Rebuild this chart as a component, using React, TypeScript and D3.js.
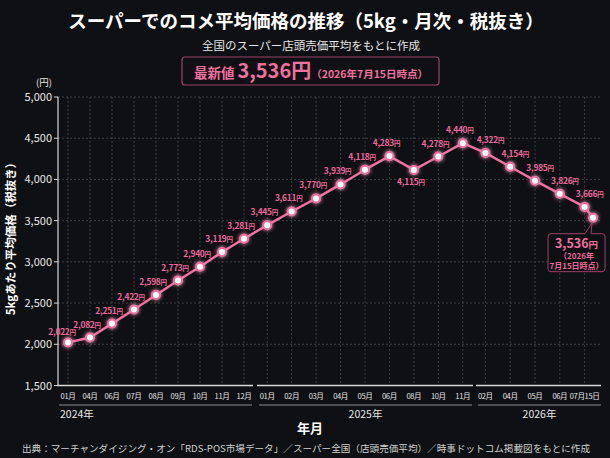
import React, { useEffect } from 'react';
import * as d3 from 'd3';

// data
const years = ['2024年', '2025年', '2026年'];
const months2024 = ['01月', '04月', '06月', '07月', '08月', '09月', '10月', '11月', '12月'];
const months2025 = ['01月', '02月', '03月', '04月', '05月', '06月', '08月', '10月', '11月'];
const months2026 = ['02月', '04月', '05月', '06月', '07月15日'];
const prices2024 = [2022, 2082, 2251, 2422, 2598, 2773, 2940, 3119, 3281];
const prices2025 = [3445, 3611, 3770, 3939, 4118, 4283, 4115, 4278, 4440];
const prices2026 = [4322, 4154, 3985, 3826, 3666];
const latestPrice = 3536;
const latestDate = '2026年7月15日時点';
const yTicks = [1500, 2000, 2500, 3000, 3500, 4000, 4500, 5000];

const W = 610;
const H = 458;
const BG = '#0f1013';
const PINK = '#f0709f';
const LABEL = '#e86a9a';
const FONT = '"Noto Sans CJK JP", "Noto Sans", sans-serif';

// layout of the three year groups along the x axis
const groupRanges: [number, number][] = [[57, 255], [255, 475], [473, 597]];
const axisSegments: [number, number][] = [[57, 253], [257, 473], [476, 601]];
const brackets: [number, number][] = [[59, 252], [259, 472], [478, 601]];

type Pt = { x: number, value: number }

const App: React.FC = () => {
  useEffect(() => { document.body.style.margin = '0'; document.body.style.background = BG }, []);

  const y = d3.scaleLinear().domain([1500, 5000]).range([385.5, 97]);
  const fmt = d3.format(',');

  const monthSets = [months2024, months2025, months2026];
  const priceSets = [prices2024, prices2025, prices2026];
  const groups = years.map((yr, i) => {
    const scale = d3.scaleBand<string>().domain(monthSets[i]).range(groupRanges[i]);
    return { yr, i, scale, months: monthSets[i], prices: priceSets[i] };
  });

  const pts: Pt[] = groups.flatMap(g =>
    g.months.map((m, j) => ({ x: (g.scale(m) as number) + g.scale.bandwidth() / 2, value: g.prices[j] })));
  const lastGroup = groups[groups.length - 1];
  const latest: Pt = { x: pts[pts.length - 1].x + lastGroup.scale.bandwidth() * 0.34, value: latestPrice };
  const allPts = [...pts, latest];
  const peak = d3.maxIndex(pts, d => d.value);

  const line = d3.line<Pt>().x(d => d.x).y(d => y(d.value));

  const plotLeft = 58, plotRight = 600, plotTop = 97, plotBottom = 385.5;

  const lx = latest.x, ly = y(latest.value);
  const bx = lx - 45, by = ly + 16, bw = 57, bh = 38;
  const callout = `M${bx + 3},${by} L${lx - 8},${by} L${lx - 1},${ly + 5} L${lx - 2},${by} L${bx + bw - 3},${by}
    Q${bx + bw},${by} ${bx + bw},${by + 3} L${bx + bw},${by + bh - 3} Q${bx + bw},${by + bh} ${bx + bw - 3},${by + bh}
    L${bx + 3},${by + bh} Q${bx},${by + bh} ${bx},${by + bh - 3} L${bx},${by + 3} Q${bx},${by} ${bx + 3},${by} Z`;

  return (
    <svg width={W} height={H} style={{ position: 'fixed', left: 0, top: 0, background: BG }} fontFamily={FONT}>
      <defs>
        <filter id="glow" x="-100%" y="-100%" width="300%" height="300%">
          <feGaussianBlur stdDeviation="2" result="b" />
          <feMerge>
            <feMergeNode in="b" />
            <feMergeNode in="SourceGraphic" />
          </feMerge>
        </filter>
      </defs>
      <rect width={W} height={H} fill={BG} />

      {/* title block */}
      <text x={306} y={28} textAnchor="middle" fill="#fff" fontSize={18.5} fontWeight="bold">
        スーパーでのコメ平均価格の推移（5kg・月次・税抜き）
      </text>
      <text x={311} y={50} textAnchor="middle" fill="#e6e6e6" fontSize={11.5}>
        全国のスーパー店頭売価平均をもとに作成
      </text>
      <rect x={182} y={57} width={257} height={28} rx={3} fill="none" stroke="#9b4268" strokeWidth={1.2} />
      <text x={311} y={78} textAnchor="middle" fill={PINK}>
        <tspan fontSize={13.5} fontWeight="bold">最新値 </tspan>
        <tspan fontSize={20} fontWeight="bold">{fmt(latestPrice)}円</tspan>
        <tspan fontSize={10.5} fontWeight="bold">（{latestDate}）</tspan>
      </text>

      {/* grid */}
      {yTicks.slice(1).map(t => (
        <line key={t} x1={plotLeft} x2={plotRight} y1={y(t)} y2={y(t)} stroke="#4a4b4f" strokeDasharray="2,2" strokeWidth={0.8} />
      ))}
      {pts.map((p, i) => (
        <line key={i} x1={p.x} x2={p.x} y1={plotTop} y2={plotBottom} stroke="#4a4b4f" strokeDasharray="2,2" strokeWidth={0.8} />
      ))}

      {/* y axis */}
      <line x1={plotLeft} x2={plotLeft} y1={plotTop} y2={plotBottom} stroke="#d8d8d8" strokeWidth={1.2} />
      {yTicks.map(t => (
        <g key={t}>
          <line x1={plotLeft - 4} x2={plotLeft} y1={y(t)} y2={y(t)} stroke="#d8d8d8" strokeWidth={1} />
          <text x={plotLeft - 6} y={y(t) + 4} textAnchor="end" fill="#e6e6e6" fontSize={11}>{fmt(t)}</text>
        </g>
      ))}
      <text x={44} y={86} textAnchor="middle" fill="#e6e6e6" fontSize={9.5}>(円)</text>
      <text transform={`translate(15,236) rotate(-90)`} textAnchor="middle" fill="#fff" fontSize={11.5} fontWeight="bold">
        5kgあたり平均価格（税抜き）
      </text>

      {/* x axis, grouped by year */}
      {groups.map(g => (
        <g key={g.yr}>
          <line x1={axisSegments[g.i][0]} x2={axisSegments[g.i][1]} y1={plotBottom} y2={plotBottom} stroke="#d8d8d8" strokeWidth={1.5} />
          {g.months.map(m => (
            <text key={m} x={(g.scale(m) as number) + g.scale.bandwidth() / 2} y={399} textAnchor="middle"
              fill="#e6e6e6" fontSize={7.6} letterSpacing={-0.4}>{m}</text>
          ))}
          <line x1={brackets[g.i][0]} x2={brackets[g.i][1]} y1={405} y2={405} stroke="#8a8a8a" strokeWidth={1} />
          <text x={g.i === 0 ? brackets[g.i][0] + 1 : (brackets[g.i][0] + brackets[g.i][1]) / 2} y={418}
            textAnchor={g.i === 0 ? 'start' : 'middle'} fill="#e6e6e6" fontSize={10.5}>{g.yr}</text>
        </g>
      ))}
      <text x={310} y={433} textAnchor="middle" fill="#fff" fontSize={13} fontWeight="bold">年月</text>

      {/* series */}
      <path d={line(allPts) as string} fill="none" stroke={PINK} strokeWidth={2.5} strokeLinejoin="round" />
      {allPts.map((p, i) => (
        <circle key={i} cx={p.x} cy={y(p.value)} r={4} fill="#fff" stroke={PINK} strokeWidth={2} filter="url(#glow)" />
      ))}
      {pts.map((p, i) => {
        const prev = pts[i - 1], next = pts[i + 1];
        const dip = prev && next && p.value < prev.value && p.value < next.value;
        const dx = i > peak ? 5 : i === 0 ? -6 : -3;
        const dy = dip ? 15 : i === 0 ? -7 : -10;
        return (
          <text key={i} x={p.x + dx} y={y(p.value) + dy} textAnchor="middle" fill={LABEL}
            fontSize={8.5} fontWeight={600} letterSpacing={-0.3}>
            {fmt(p.value)}<tspan fontSize={6.5}>円</tspan>
          </text>
        );
      })}

      {/* latest value callout */}
      <path d={callout} fill={BG} stroke="#9b4268" strokeWidth={1} />
      <text x={bx + bw / 2} y={by + 14} textAnchor="middle" fill={PINK} fontSize={12.5} fontWeight="bold">
        {fmt(latestPrice)}<tspan fontSize={9.5}>円</tspan>
      </text>
      <text x={bx + bw / 2} y={by + 25.5} textAnchor="middle" fill={LABEL} fontSize={8} fontWeight={600}>（2026年</text>
      <text x={bx + bw / 2} y={by + 35} textAnchor="middle" fill={LABEL} fontSize={8} fontWeight={600}>7月15日時点）</text>

      {/* source */}
      <text x={306} y={452} textAnchor="middle" fill="#d0d0d0" fontSize={9.6}>
        出典：マーチャンダイジング・オン「RDS-POS市場データ」／スーパー全国（店頭売価平均）／時事ドットコム掲載図をもとに作成
      </text>
    </svg>
  );
};

export default App;
